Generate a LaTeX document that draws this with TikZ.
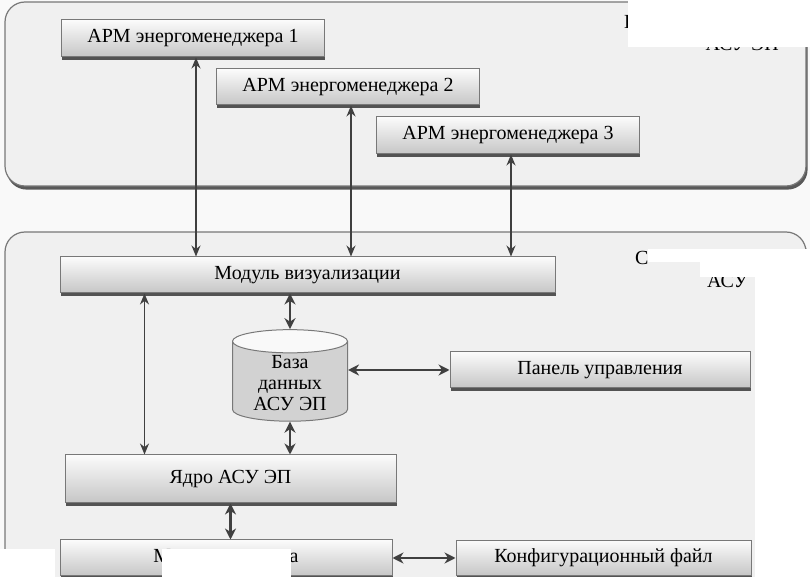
\documentclass[tikz,border=0pt]{standalone}
\usepackage{fontspec}
\setmainfont{Liberation Serif}
\usetikzlibrary{shapes.geometric,arrows.meta,positioning,shadows}
\definecolor{panelgray}{RGB}{240,240,240}
\definecolor{edgegray}{RGB}{120,120,120}
\definecolor{arrowgray}{RGB}{64,64,64}

\begin{document}
\begin{tikzpicture}[
    x=0.5pt,y=-0.5pt,
    every node/.style={font=\fontsize{10}{12}\selectfont},
    panel/.style={rectangle,draw=edgegray,line width=0.6pt,fill=panelgray,rounded corners=10pt,drop shadow={shadow xshift=0.8pt,shadow yshift=-1.8pt,fill=gray!70!black,opacity=1}},
    module/.style={rectangle,draw=edgegray,line width=0.5pt,top color=white!97!gray,bottom color=gray!45,drop shadow={shadow xshift=0.4pt,shadow yshift=-1.3pt,fill=gray!65!black,opacity=1}},
    store/.style={cylinder,shape border rotate=90,aspect=0.3,draw=edgegray,line width=0.5pt,cylinder uses custom fill,cylinder body fill=gray!35,cylinder end fill=white!95!gray,align=center,inner sep=1pt,font=\fontsize{10}{10.5}\selectfont},
    link/.style={{Stealth[length=5.5pt,width=4.5pt]}-{Stealth[length=5.5pt,width=4.5pt]},arrowgray,line width=0.6pt},
    boldlink/.style={{Stealth[length=5.5pt,width=5.5pt]}-{Stealth[length=5.5pt,width=5.5pt]},arrowgray,line width=1.3pt},
    patch/.style={fill=white,draw=none}
]
\clip (0,0) rectangle (810,577);
\fill[gray!5] (0,0) rectangle (810,577);

% Containers
\node[panel,minimum width=400.5pt,minimum height=92pt] (client) at (405.5,94) {};
\node[panel,minimum width=400.5pt,minimum height=200pt] (server) at (405.5,432) {};

% Workstations
\node[module,minimum width=131.5pt,minimum height=18.5pt] (arm1) at (193,38.5) {АРМ энергоменеджера 1};
\node[module,minimum width=131.5pt,minimum height=18pt] (arm2) at (348,87) {АРМ энергоменеджера 2};
\node[module,minimum width=131.5pt,minimum height=18.5pt] (arm3) at (508,135.5) {АРМ энергоменеджера 3};

% Server modules
\node[module,minimum width=247.5pt,minimum height=18pt] (vis) at (307.5,275) {Модуль визуализации};
\node[store,minimum width=57.5pt,minimum height=43pt] (db) at (290,383) {База\\данных\\АСУ ЭП};
\node[module,minimum width=150pt,minimum height=18pt] (pan) at (600,370) {Панель управления};
\node[module,minimum width=165.5pt,minimum height=24pt] (core) at (230.5,479) {Ядро АСУ ЭП};
\node[module,minimum width=166pt,minimum height=18pt] (exp) at (226,558) {Модуль экспорта};
\node[module,minimum width=147.5pt,minimum height=17.5pt,right=31.5pt of exp] (cfg) {Конфигурационный файл};

% Helper point for the long link
\coordinate (visL) at ([xshift=42.5pt]vis.south west);

% Links
\draw[link] ([xshift=1.5pt]arm1.south) -- ([xshift=1.5pt]arm1.south |- vis.north);
\draw[link] ([xshift=1.5pt]arm2.south) -- ([xshift=1.5pt]arm2.south |- vis.north);
\draw[link] ([xshift=1.5pt]arm3.south) -- ([xshift=1.5pt]arm3.south |- vis.north);
\draw[link] (visL) -- (visL |- core.north);
\draw[boldlink] (db.north) -- (db.north |- vis.south);
\draw[boldlink] (db.south) -- (db.south |- core.north);
\draw[boldlink] (db.east |- pan.west) -- (pan.west);
\draw[boldlink] (core.south) -- (core.south |- exp.north);
\draw[boldlink] (exp.east) -- (cfg.west);

% Container captions
\node[anchor=west] (capC) at (617,22) {К};
\node[anchor=east] (capC2) at (786,44) {АСУ ЭП};
\node[anchor=west] (capS) at (628,258) {С};
\node[anchor=west] (capS2) at (700,281) {АСУ};

% Covered areas
\fill[patch] (628,0) rectangle (810,47);
\fill[patch] (648,249) rectangle (810,262);
\fill[patch] (700,262) rectangle (810,277);
\fill[patch] (755,277) rectangle (810,577);
\fill[patch] (0,549) rectangle (55,577);
\fill[patch] (162,549) rectangle (291,577);
\end{tikzpicture}
\end{document}
